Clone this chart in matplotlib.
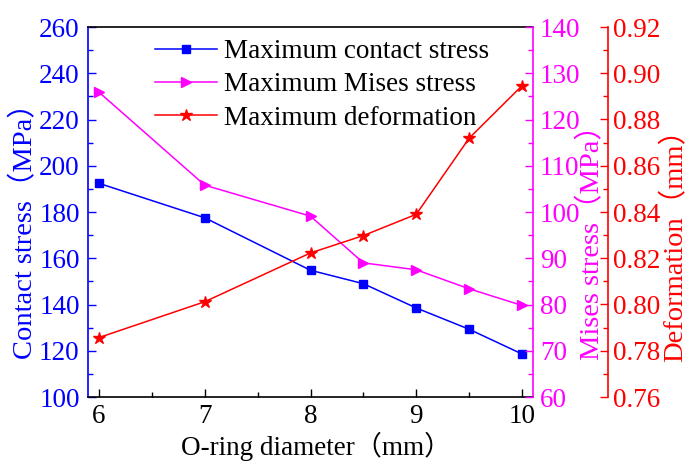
import matplotlib
matplotlib.use("Agg")
import matplotlib.pyplot as plt
from matplotlib.ticker import MultipleLocator, FormatStrFormatter

plt.rcParams['font.family'] = ['Liberation Serif', 'Noto Sans CJK SC']

# O-ring diameter (mm)
diameter = [6, 7, 8, 8.5, 9, 9.5, 10]
# Maximum contact stress (MPa)
contact_stress = [192.4, 177.5, 154.8, 149.0, 138.5, 129.3, 118.6]
# Maximum Mises stress (MPa)
mises_stress = [125.9, 105.8, 99.1, 89.0, 87.5, 83.4, 79.8]
# Maximum deformation (mm)
deformation = [0.7857, 0.8012, 0.8223, 0.8298, 0.8390, 0.8719, 0.8946]

x_ticks = [6, 7, 8, 9, 10]

BLUE = '#0000FF'
MAGENTA = '#FF00FF'
RED = '#FF0000'
FS = 19.5
LFS = 20.5

W, H = 688, 461
L, R, T, B = 88, 533, 27, 397

fig = plt.figure(figsize=(W / 100, H / 100), dpi=100)
ax = fig.add_axes([L / W, 1 - B / H, (R - L) / W, (B - T) / H])
ax2 = ax.twinx()
ax3 = ax.twinx()
ax3.spines['right'].set_position(('axes', 1 + (608 - R) / (R - L)))

l1, = ax.plot(diameter, contact_stress, color=BLUE, marker='s', ms=5.5, lw=1.1,
              label='Maximum contact stress')
l2, = ax2.plot(diameter, mises_stress, color=MAGENTA, marker='>', ms=7, lw=1.1,
               label='Maximum Mises stress')
l3, = ax3.plot(diameter, deformation, color=RED, marker='*', ms=9, lw=1.1,
               label='Maximum deformation')

ax.set_xlim(5.896, 10.104)
ax.set_ylim(100, 260)
ax2.set_ylim(60, 140)
ax3.set_ylim(0.76, 0.92)

ax.set_xticks(x_ticks)
ax.xaxis.set_minor_locator(MultipleLocator(0.5))
ax.yaxis.set_major_locator(MultipleLocator(20))
ax.yaxis.set_minor_locator(MultipleLocator(10))
ax2.yaxis.set_major_locator(MultipleLocator(10))
ax2.yaxis.set_minor_locator(MultipleLocator(5))
ax3.yaxis.set_major_locator(MultipleLocator(0.02))
ax3.yaxis.set_minor_locator(MultipleLocator(0.01))
ax3.yaxis.set_major_formatter(FormatStrFormatter('%.2f'))

ax.tick_params(axis='x', which='both', direction='in', top=False, labelsize=FS,
               colors='black', pad=5)
ax.tick_params(axis='x', which='major', length=6, width=1)
ax.tick_params(axis='x', which='minor', length=3.5, width=1)
for a, c, p in ((ax, BLUE, 6), (ax2, MAGENTA, 5), (ax3, RED, 3.5)):
    a.tick_params(axis='y', which='both', direction='in', colors=c, labelsize=FS,
                  width=1, pad=p)
    a.tick_params(axis='y', which='major', length=6)
    a.tick_params(axis='y', which='minor', length=3.5)

ax.spines['left'].set_color(BLUE)
ax.spines['right'].set_visible(False)
for a in (ax2, ax3):
    a.spines['left'].set_visible(False)
    a.spines['top'].set_visible(False)
    a.spines['bottom'].set_visible(False)
ax2.spines['right'].set_color(MAGENTA)
ax3.spines['right'].set_color(RED)
for s in ax.spines.values():
    s.set_linewidth(1.2)
ax2.spines['right'].set_linewidth(1.2)
ax3.spines['right'].set_linewidth(1.2)

ax.set_xlabel('O-ring diameter（mm）', fontsize=19.5, color='black')
ax.set_ylabel('Contact stress（MPa）', fontsize=LFS, color=BLUE)
ax2.set_ylabel('Mises stress（MPa）', fontsize=LFS, color=MAGENTA)
ax3.set_ylabel('Deformation（mm）', fontsize=LFS, color=RED)

# centre each axis title on its own column / row
for a in (ax, ax2, ax3):
    a.yaxis.label.set_va('center')
ax.xaxis.label.set_va('center')
ax.xaxis.set_label_coords((316 - L) / (R - L), (B - 446) / (B - T))
ax.yaxis.set_label_coords((25 - L) / (R - L), (B - 224) / (B - T))
ax2.yaxis.set_label_coords((592 - L) / (R - L), (B - 236) / (B - T))
ax3.yaxis.set_label_coords((675 - L) / (R - L), (B - 238) / (B - T))

ax.legend(handles=[l1, l2, l3], loc='upper left',
          bbox_to_anchor=((155 - L) / (R - L), (B - 39) / (B - T)),
          borderaxespad=0, borderpad=0, frameon=False, fontsize=FS,
          handlelength=2.3, handletextpad=0.25, labelspacing=0.31)

fig.savefig('out.png', dpi=100)
